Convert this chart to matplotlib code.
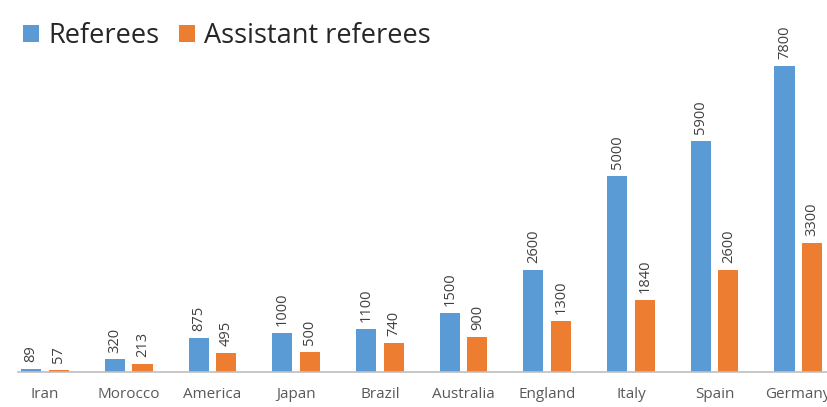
import matplotlib
matplotlib.use("Agg")
import matplotlib.pyplot as plt
import numpy as np

countries = ["Iran", "Morocco", "America", "Japan", "Brazil",
             "Australia", "England", "Italy", "Spain", "Germany"]
referees = [89, 320, 875, 1000, 1100, 1500, 2600, 5000, 5900, 7800]
assistants = [57, 213, 495, 500, 740, 900, 1300, 1840, 2600, 3300]

blue = "#5B9BD5"
orange = "#ED7D31"
text_col = "#595959"

plt.rcParams["font.family"] = ["Open Sans", "DejaVu Sans"]

fig = plt.figure(figsize=(8.28, 4.07), dpi=100)
ax = fig.add_axes([18 / 828, 35 / 407, 810 / 828, 332 / 407])

x = np.arange(len(countries))
w = 0.24
off = 0.165
b1 = ax.bar(x - off, referees, w, color=blue, label="Referees")
b2 = ax.bar(x + off, assistants, w, color=orange, label="Assistant referees")

# value labels, rotated, just above each bar
for bars, vals in [(b1, referees), (b2, assistants)]:
    for rect, v in zip(bars, vals):
        ax.annotate(str(v), (rect.get_x() + rect.get_width() / 2, rect.get_height()),
                    xytext=(0, 5), textcoords="offset points",
                    rotation=90, ha="center", va="bottom",
                    fontsize=10.5, color="#404040", annotation_clip=False)

ax.set_xlim(-0.323, 9.355)
ax.set_ylim(0, 7800 * 332 / 306)
ax.set_xticks(x)
ax.set_xticklabels(countries, fontsize=11, color=text_col)
ax.tick_params(axis="x", length=0, pad=11)
ax.set_yticks([])
for s in ["top", "right", "left"]:
    ax.spines[s].set_visible(False)
ax.spines["bottom"].set_color("#BFBFBF")
ax.spines["bottom"].set_linewidth(1.2)

fig.legend(loc="upper left", bbox_to_anchor=(-0.002, 1.005), ncol=2, frameon=False,
           fontsize=19.5, handlelength=0.6, handleheight=0.6, handletextpad=0.35,
           columnspacing=0.7, labelcolor="#262626")

fig.savefig("out.png", dpi=100)
